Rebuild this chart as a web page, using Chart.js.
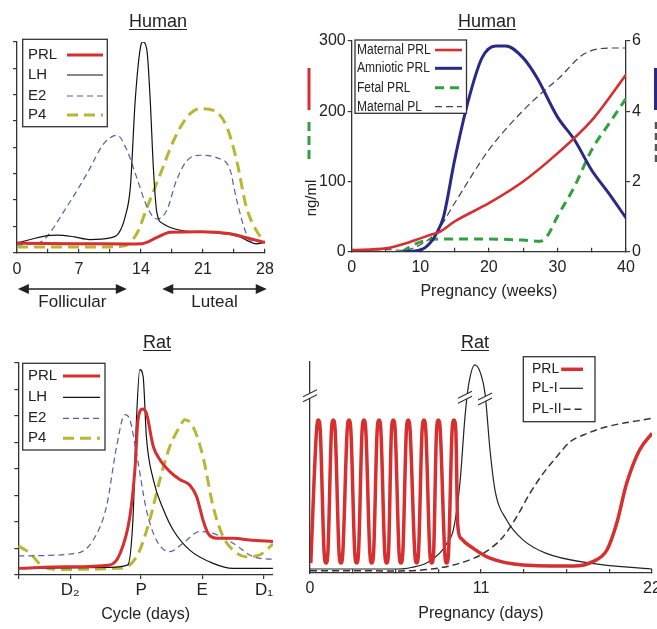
<!DOCTYPE html>
<html>
<head>
<meta charset="utf-8">
<title>Prolactin and related hormones</title>
<script src="https://cdn.jsdelivr.net/npm/chart.js@4.4.1/dist/chart.umd.min.js"></script>
<style>
  html, body { margin: 0; padding: 0; background: #fff; }
  body { width: 657px; height: 629px; position: relative; overflow: hidden; font-family: "Liberation Sans", Arial, sans-serif; color: #222; }
  canvas { position: absolute; }
  .title { position: absolute; font-size: 18px; line-height: 18px; text-decoration: underline; text-decoration-thickness: 1px; text-underline-offset: 2px; white-space: nowrap; transform: translateX(-50%); }
  .unit { position: absolute; font-size: 15px; line-height: 15px; white-space: nowrap; transform: translate(-50%, -50%) rotate(-90deg); }
  svg.key { position: absolute; }
</style>
</head>
<body>
<canvas id="humanCycle" width="300" height="290" style="left:0; top:30px"></canvas>
<canvas id="humanPreg" width="387" height="290" style="left:290px; top:30px"></canvas>
<canvas id="ratCycle" width="300" height="299" style="left:0; top:330px"></canvas>
<canvas id="ratPreg" width="387" height="299" style="left:290px; top:330px"></canvas>

<div class="title" style="left:158px; top:12px">Human</div>
<div class="title" style="left:487px; top:12px">Human</div>
<div class="title" style="left:157px; top:333px">Rat</div>
<div class="title" style="left:475px; top:333px">Rat</div>

<!-- unit keys beside the human pregnancy panel -->
<svg class="key" style="left:300px; top:60px" width="20" height="110">
  <line x1="9" y1="8" x2="9" y2="50" stroke="#d62f2f" stroke-width="3"/>
  <line x1="9" y1="62" x2="9" y2="104" stroke="#33a040" stroke-width="3" stroke-dasharray="9 5"/>
</svg>
<div class="unit" style="left:310px; top:198px">ng/ml</div>
<svg class="key" style="left:646px; top:60px" width="20" height="110">
  <line x1="10" y1="8" x2="10" y2="50" stroke="#2a2a86" stroke-width="4"/>
  <line x1="10" y1="62" x2="10" y2="104" stroke="#555" stroke-width="2.5" stroke-dasharray="7 4"/>
</svg>
<div class="unit" style="left:663px; top:205px">μg/ml</div>

<script>
// Human menstrual cycle (day of cycle, arbitrary units 0-8)
const hcPrlDays = [0, 3, 8, 12.4, 14.1, 15.8, 17.3, 20.7, 24.1, 26, 28];
const hcPrl = [0.37, 0.35, 0.34, 0.33, 0.34, 0.58, 0.78, 0.8, 0.72, 0.56, 0.39];
const hcLhDays = [0, 1.5, 3.4, 4.5, 6.5, 8.2, 10.5, 11.5, 12.2, 12.8, 13.35, 14.0, 14.2, 14.66, 15.04, 15.4, 15.8, 16.5, 18.5, 22.5, 25, 26, 27, 28];
const hcLh = [0.37, 0.5, 0.65, 0.67, 0.6, 0.5, 0.56, 0.75, 1.35, 2.5, 5.8, 7.9, 8.0, 7.7, 5.8, 3.2, 1.5, 1.1, 0.85, 0.75, 0.62, 0.46, 0.33, 0.4];
const hcE2Days = [0, 2, 3, 5.6, 7.9, 9.8, 11.3, 12.4, 13.5, 14.7, 15.8, 16.9, 18, 19.2, 20.7, 22.6, 24, 24.8, 25.9, 27, 28];
const hcE2 = [0.3, 0.35, 0.48, 1.73, 3.0, 4.14, 4.46, 3.9, 2.87, 1.73, 1.28, 1.6, 2.74, 3.5, 3.7, 3.6, 3.2, 2.0, 0.72, 0.35, 0.4];
const hcP4Days = [0, 5, 10, 12, 13.5, 14.7, 16.2, 17.7, 19.2, 20.7, 22.2, 23.7, 24.8, 25.9, 27.1, 28];
const hcP4 = [0.22, 0.22, 0.22, 0.25, 0.71, 1.73, 3.0, 4.27, 5.15, 5.47, 5.4, 4.77, 3.5, 1.73, 0.8, 0.4];

// Human pregnancy (weeks); PRL in ng/ml, placental lactogen in ug/ml
const hpPrlWeeks = [0, 5, 7.9, 10, 11.4, 12.9, 15, 20, 25, 30, 35, 40];
const hpMaternalPrl = [2.4, 4.7, 12, 19, 23.7, 28.5, 43, 69, 100, 140, 187, 252];
const hpAmnWeeks = [7.4, 10, 11.4, 12.4, 13.4, 15, 17, 19, 21, 22.5, 25, 27, 30, 32.5, 35, 37.5, 40];
const hpAmnioticPrl = [0, 2.4, 12, 26.5, 50, 130, 215, 276, 293, 293, 276, 248, 192, 159, 116, 83, 48];
const hpFetWeeks = [7.3, 9.5, 11.4, 13, 20, 25, 27.5, 28.5, 30, 32.5, 35, 37.5, 40];
const hpFetalPrl = [0, 12, 17, 18, 18, 16.5, 15, 22, 50, 93, 145, 182, 218];
const hpPlWeeks = [0, 5, 7.5, 10, 12.3, 15, 20, 25, 28.4, 30, 33.8, 37.5, 40];
const hpMaternalPl = [0.06, 0.06, 0.04, 0.2, 0.54, 1.38, 2.9, 4.02, 4.64, 4.9, 5.62, 5.8, 5.8];

// Rat estrous cycle (position along the cycle 0-100, arbitrary units 0-8)
const rcTickPos = [0, 20.4, 48.2, 72.2, 96.5];
const rcTickLabels = ['', 'D\u2082', 'P', 'E', 'D\u2081'];
const rcPrlPos = [0, 19, 36, 40, 43.8, 45.8, 47, 48.8, 50.3, 53, 55.6, 59.5, 63.4, 67.3, 70, 72.5, 74.5, 77.8, 84.3, 90.8, 100];
const rcPrl = [0.25, 0.31, 0.38, 0.82, 2.2, 4.0, 5.86, 6.26, 6.1, 4.85, 4.35, 3.9, 3.6, 3.4, 2.96, 2.08, 1.57, 1.39, 1.39, 1.32, 1.26];
const rcLhPos = [0, 36, 43, 45, 46.4, 47.7, 49, 50.3, 53, 57, 60.8, 67.3, 76.5, 84.3, 100];
const rcLh = [0.25, 0.29, 0.38, 2.08, 5.86, 7.75, 7.5, 5.2, 3.6, 2.46, 1.7, 0.94, 0.44, 0.25, 0.25];
const rcE2Pos = [0, 22.9, 29.4, 34.6, 38.6, 41.8, 43.8, 46.4, 50.3, 54.2, 59.5, 64.7, 71.2, 76.5, 84.3, 92.2, 100];
const rcE2 = [0.72, 0.82, 1.32, 2.58, 4.85, 6.05, 5.86, 4.6, 2.46, 1.32, 0.88, 1.2, 1.64, 1.57, 1.2, 0.69, 0.59];
const rcP4Pos = [0, 4.6, 9.8, 16.3, 38.6, 43.8, 47.7, 51.6, 55.6, 59.5, 63.4, 65.4, 68.6, 72.5, 76.5, 80.4, 84.3, 89.5, 94.8, 100];
const rcP4 = [1.1, 0.82, 0.31, 0.21, 0.25, 0.38, 0.94, 2.08, 3.6, 4.85, 5.6, 5.86, 5.6, 4.47, 2.58, 1.45, 0.94, 0.69, 0.76, 1.17];

// Rat pregnancy (days, arbitrary units 0-10); PRL surges twice a day until mid-pregnancy
const rpPrlDays = [0.05, 0.42, 0.54, 0.66, 0.91, 1.03, 1.15, 1.38, 1.5, 1.62, 1.87, 1.99, 2.11, 2.39, 2.51, 2.63,
  2.88, 3.0, 3.12, 3.35, 3.47, 3.59, 3.85, 3.97, 4.09, 4.32, 4.44, 4.56, 4.81, 4.93, 5.05, 5.24, 5.36, 5.48,
  5.73, 5.85, 5.97, 6.2, 6.32, 6.44, 6.74, 6.86, 6.98, 7.21, 7.33, 7.45, 7.71, 7.83, 7.95, 8.14, 8.26, 8.38,
  8.67, 8.79, 8.91, 9.14, 9.26, 9.38, 9.5, 9.7, 10.5, 11.58, 13.7, 16.94, 18.2, 19.1, 19.73, 20.37, 21.2, 22];
const rpPrl = [0.47, 6.75, 7.25, 6.75, 0.95, 0.47, 0.95, 6.75, 7.25, 6.75, 0.95, 0.47, 0.95, 6.75, 7.25, 6.75,
  0.95, 0.47, 0.95, 6.75, 7.25, 6.75, 0.95, 0.47, 0.95, 6.75, 7.25, 6.75, 0.95, 0.47, 0.95, 6.75, 7.25, 6.75,
  0.95, 0.47, 0.95, 6.75, 7.25, 6.75, 0.95, 0.47, 0.95, 6.75, 7.25, 6.75, 0.95, 0.47, 0.95, 6.75, 7.25, 6.75,
  0.95, 0.47, 0.95, 6.75, 7.25, 6.75, 2.3, 1.65, 1.17, 0.7, 0.38, 0.33, 0.54, 1.09, 2.36, 4.25, 5.83, 6.62];
const rpPl1Days = [0, 5.6, 6.22, 7.5, 8.36, 8.8, 9.22, 9.65, 9.97, 10.2, 10.61, 11.0, 11.26, 11.58, 11.9, 12.65, 13.72, 15.2, 18.0, 22];
const rpPl1 = [0.19, 0.19, 0.22, 0.47, 0.95, 1.4, 2.04, 4.3, 7.4, 8.9, 9.86, 9.4, 8.5, 5.83, 3.93, 2.51, 1.56, 0.93, 0.47, 0.19];
const rpPl2Days = [0, 5.8, 8.4, 10.0, 11.15, 12.43, 13.3, 14.15, 15.0, 15.87, 16.73, 17.58, 19.09, 22];
const rpPl2 = [0.11, 0.1, 0.25, 0.55, 0.93, 1.72, 2.67, 3.78, 4.72, 5.51, 6.22, 6.54, 6.93, 7.33];
const rpBreaks = [[0, 8.4], [9.97, 8.33], [11.26, 8.25]];

Chart.defaults.font.family = '"Liberation Sans", Arial, sans-serif';
Chart.defaults.color = '#222';
Chart.defaults.animation = false;

const axisColor = '#333';
const red = '#d62f2f';
const slate = '#5a5aa8';
const olive = '#bbb534';
const navy = '#2a2a86';
const green = '#33a040';

const pts = (xs, ys) => xs.map((x, i) => ({ x: x, y: ys[i] }));

function curve(label, xs, ys, color, width, dash, axis) {
    return {
        label: label,
        data: pts(xs, ys),
        borderColor: color,
        borderWidth: width,
        borderDash: dash || [],
        pointRadius: 0,
        fill: false,
        cubicInterpolationMode: 'monotone',
        yAxisID: axis || 'y',
    };
}

// fixed axis sizes so every plot area lands where it should
const fixSize = (w, h) => (s) => {
    if (w != null) s.width = w;
    if (h != null) s.height = h;
    s.paddingLeft = s.paddingRight = s.paddingTop = s.paddingBottom = 0;
};

const tickGrid = (len) => ({ drawOnChartArea: false, tickLength: len, color: axisColor, tickColor: axisColor, lineWidth: 1.2 });
const axisBorder = { color: axisColor, width: 1.3 };

// boxed legend: label on the left, line sample on the right
const boxLegend = (box) => ({
    id: 'boxLegend',
    afterDatasetsDraw(chart) {
        const ctx = chart.ctx;
        const squeeze = box.squeeze || 1;
        ctx.save();
        ctx.fillStyle = '#fff';
        ctx.fillRect(box.left, box.top, box.width, box.height);
        ctx.lineWidth = 1.3;
        ctx.strokeStyle = '#333';
        ctx.strokeRect(box.left, box.top, box.width, box.height);
        ctx.font = box.font;
        ctx.textBaseline = 'middle';
        chart.data.datasets.forEach((ds, i) => {
            const y = box.rows[i];
            ctx.save();
            ctx.translate(box.textX, y);
            ctx.scale(squeeze, 1);
            ctx.fillStyle = '#222';
            ctx.fillText(ds.label, 0, 0);
            ctx.restore();
            const x1 = box.lineX1 != null ? box.lineX1 : box.textX + ctx.measureText(ds.label).width * squeeze + 2;
            ctx.strokeStyle = ds.borderColor;
            ctx.lineWidth = ds.borderWidth;
            ctx.setLineDash(ds.borderDash);
            ctx.beginPath();
            ctx.moveTo(x1, y);
            ctx.lineTo(box.lineX2, y);
            ctx.stroke();
            ctx.setLineDash([]);
        });
        ctx.restore();
    },
});

// double-headed arrows under the human cycle axis
const phaseArrows = (phases, arrowY, textY) => ({
    id: 'phaseArrows',
    afterDraw(chart) {
        const ctx = chart.ctx;
        const x = chart.scales.x;
        ctx.save();
        ctx.strokeStyle = '#222';
        ctx.fillStyle = '#222';
        ctx.lineWidth = 1.6;
        phases.forEach((p) => {
            const x1 = x.getPixelForValue(p.from);
            const x2 = x.getPixelForValue(p.to);
            ctx.beginPath();
            ctx.moveTo(x1 + 6, arrowY);
            ctx.lineTo(x2 - 6, arrowY);
            ctx.stroke();
            ctx.beginPath();
            ctx.moveTo(x1, arrowY); ctx.lineTo(x1 + 11, arrowY - 5); ctx.lineTo(x1 + 11, arrowY + 5); ctx.closePath();
            ctx.moveTo(x2, arrowY); ctx.lineTo(x2 - 11, arrowY - 5); ctx.lineTo(x2 - 11, arrowY + 5); ctx.closePath();
            ctx.fill();
            ctx.font = '17px "Liberation Sans", Arial, sans-serif';
            ctx.textAlign = 'center';
            ctx.textBaseline = 'middle';
            ctx.fillText(p.label, (x1 + x2) / 2, textY);
        });
        ctx.restore();
    },
});

// "//" axis-break marks placed in data coordinates
const breakMarks = (marks) => ({
    id: 'breakMarks',
    afterDraw(chart) {
        const ctx = chart.ctx;
        marks.forEach((m) => {
            const px = chart.scales.x.getPixelForValue(m[0]);
            const py = chart.scales.y.getPixelForValue(m[1]);
            ctx.save();
            ctx.translate(px, py);
            ctx.fillStyle = '#fff';
            ctx.beginPath();
            ctx.moveTo(-7, 1); ctx.lineTo(7, -6); ctx.lineTo(7, -1); ctx.lineTo(-7, 6); ctx.closePath();
            ctx.fill();
            ctx.strokeStyle = '#333';
            ctx.lineWidth = 1.1;
            ctx.beginPath();
            ctx.moveTo(-7, 1); ctx.lineTo(7, -6);
            ctx.moveTo(-7, 6); ctx.lineTo(7, -1);
            ctx.stroke();
            ctx.restore();
        });
    },
});

const baseOptions = (padding) => ({
    responsive: false,
    animation: false,
    layout: { autoPadding: false, padding: padding },
    plugins: { legend: { display: false }, tooltip: { enabled: false } },
});

// Human cycle
new Chart(document.getElementById('humanCycle'), {
    type: 'line',
    data: {
        datasets: [
            curve('PRL', hcPrlDays, hcPrl, red, 3),
            curve('LH', hcLhDays, hcLh, '#111', 1.2),
            curve('E2', hcE2Days, hcE2, slate, 1.2, [6, 4]),
            curve('P4', hcP4Days, hcP4, olive, 3, [11, 6]),
        ],
    },
    options: Object.assign(baseOptions({ left: 5, top: 12, right: 35, bottom: 42.3 }), {
        scales: {
            x: {
                type: 'linear', min: 0, max: 28, afterFit: fixSize(null, 25),
                ticks: { stepSize: 3.5, autoSkip: false, maxRotation: 0, padding: 11.7, font: { size: 16 }, color: '#222',
                    callback: (v) => (v % 7 === 0 ? v : '') },
                grid: tickGrid(-4), border: axisBorder,
            },
            y: {
                min: 0, max: 8, afterFit: fixSize(12, null),
                ticks: { stepSize: 1, autoSkip: false, callback: () => '' },
                grid: tickGrid(4), border: axisBorder,
            },
        },
    }),
    plugins: [
        boxLegend({ left: 22.7, top: 9.3, width: 84.6, height: 87.4, rows: [25, 45, 66, 85], textX: 28, lineX1: 67, lineX2: 103,
            font: '15px "Liberation Sans", Arial, sans-serif' }),
        phaseArrows([{ from: 0.1, to: 12.4, label: 'Follicular' }, { from: 16.4, to: 28.2, label: 'Luteal' }], 259, 272),
    ],
});

// Human pregnancy
new Chart(document.getElementById('humanPreg'), {
    type: 'line',
    data: {
        datasets: [
            curve('Maternal PRL', hpPrlWeeks, hpMaternalPrl, red, 2.6),
            curve('Amniotic PRL', hpAmnWeeks, hpAmnioticPrl, navy, 3),
            curve('Fetal PRL', hpFetWeeks, hpFetalPrl, green, 3, [9, 6]),
            curve('Maternal PL', hpPlWeeks, hpMaternalPl, '#444', 1.2, [7, 4], 'y1'),
        ],
    },
    options: Object.assign(baseOptions({ left: 21.7, top: 11, right: 21, bottom: 16.3 }), {
        scales: {
            x: {
                type: 'linear', min: 0, max: 40, afterFit: fixSize(null, 52),
                ticks: { stepSize: 5, autoSkip: false, maxRotation: 0, padding: 10.7, font: { size: 16 }, color: '#222',
                    callback: (v) => (v % 10 === 0 ? v : '') },
                title: { display: true, text: 'Pregnancy (weeks)', font: { size: 16 }, color: '#222', padding: { top: 0, bottom: 2.1 } },
                grid: tickGrid(-4), border: axisBorder,
            },
            y: {
                position: 'left', min: 0, max: 300, afterFit: fixSize(40, null),
                ticks: { stepSize: 100, autoSkip: false, padding: 2, font: { size: 16 }, color: '#222' },
                grid: tickGrid(4), border: axisBorder,
            },
            y1: {
                position: 'right', min: 0, max: 6, afterFit: fixSize(30, null),
                ticks: { stepSize: 2, autoSkip: false, padding: 2, font: { size: 16 }, color: '#222' },
                grid: tickGrid(4), border: axisBorder,
            },
        },
    }),
    plugins: [
        boxLegend({ left: 65, top: 10, width: 111.5, height: 73.3, rows: [20, 38.3, 57.7, 76.7], textX: 67, lineX1: 145, lineX2: 172,
            font: '14px "Liberation Sans", Arial, sans-serif', squeeze: 0.86 }),
    ],
});

// Rat cycle
new Chart(document.getElementById('ratCycle'), {
    type: 'line',
    data: {
        datasets: [
            curve('PRL', rcPrlPos, rcPrl, red, 3),
            curve('LH', rcLhPos, rcLh, '#111', 1.2),
            curve('E2', rcE2Pos, rcE2, slate, 1.2, [6, 4]),
            curve('P4', rcP4Pos, rcP4, olive, 3, [11, 6]),
        ],
    },
    options: Object.assign(baseOptions({ left: 6.3, top: 33, right: 27, bottom: 2 }), {
        scales: {
            x: {
                type: 'linear', min: 0, max: 100, afterFit: fixSize(null, 52),
                afterBuildTicks: (s) => { s.ticks = rcTickPos.map((v) => ({ value: v })); },
                ticks: { autoSkip: false, maxRotation: 0, padding: 1, font: { size: 17 }, color: '#222',
                    callback: (v, i) => rcTickLabels[i] },
                title: { display: true, text: 'Cycle (days)', font: { size: 16 }, color: '#222', padding: { top: 0, bottom: 2.4 } },
                grid: tickGrid(4), border: axisBorder,
            },
            y: {
                min: 0, max: 8, afterFit: fixSize(12, null),
                ticks: { stepSize: 1, autoSkip: false, callback: () => '' },
                grid: tickGrid(4), border: axisBorder,
            },
        },
    }),
    plugins: [
        boxLegend({ left: 22.7, top: 33.3, width: 82.3, height: 86.7, rows: [46, 67.3, 88.3, 108.3], textX: 28, lineX1: 63, lineX2: 100,
            font: '15px "Liberation Sans", Arial, sans-serif' }),
    ],
});

// Rat pregnancy
new Chart(document.getElementById('ratPreg'), {
    type: 'line',
    data: {
        datasets: [
            curve('PRL', rpPrlDays, rpPrl, red, 3.5),
            curve('PL-I', rpPl1Days, rpPl1, '#222', 1.2),
            curve('PL-II', rpPl2Days, rpPl2, '#333', 1.5, [7, 4]),
        ],
    },
    options: Object.assign(baseOptions({ left: 16, top: 32, right: 25, bottom: 4 }), {
        scales: {
            x: {
                type: 'linear', min: 0, max: 22, afterFit: fixSize(null, 52),
                ticks: { stepSize: 2.75, autoSkip: false, maxRotation: 0, padding: 10.4, font: { size: 16 }, color: '#222',
                    callback: (v) => (v % 11 === 0 ? v : '') },
                title: { display: true, text: 'Pregnancy (days)', font: { size: 16 }, color: '#222', padding: { top: 0, bottom: 1.4 } },
                grid: tickGrid(-4), border: axisBorder,
            },
            y: {
                min: 0, max: 10, afterFit: fixSize(4, null),
                ticks: { display: false },
                grid: { display: false }, border: axisBorder,
            },
        },
    }),
    plugins: [
        boxLegend({ left: 233.3, top: 26.7, width: 71.7, height: 65, rows: [39.3, 58.3, 79.3], textX: 242, lineX2: 293,
            font: '14px "Liberation Sans", Arial, sans-serif' }),
        breakMarks(rpBreaks),
    ],
});
</script>
</body>
</html>
